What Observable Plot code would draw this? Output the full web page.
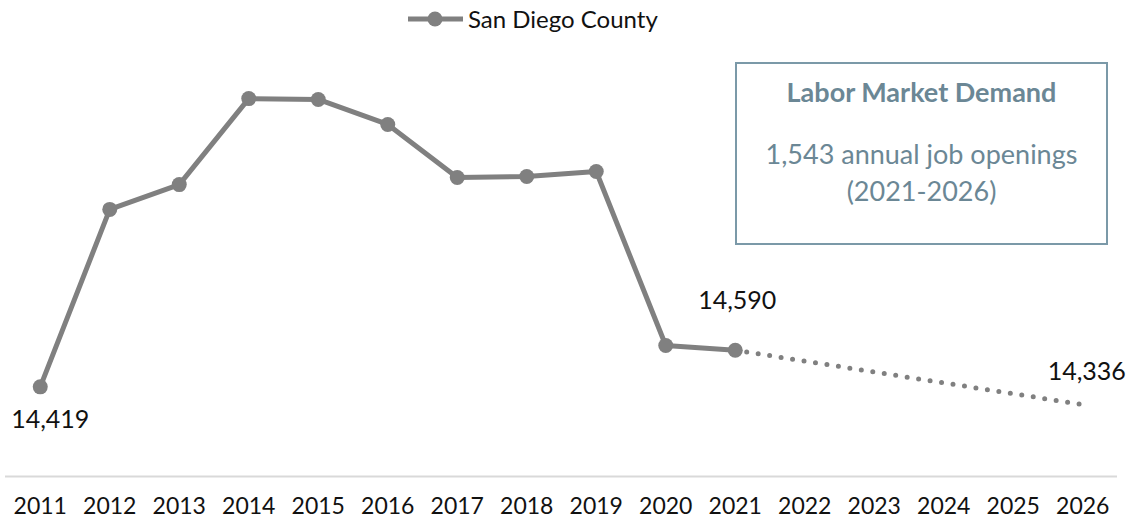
<!DOCTYPE html>
<html><head><meta charset="utf-8">
<script src="https://cdn.jsdelivr.net/npm/d3@7"></script>
<script src="https://cdn.jsdelivr.net/npm/@observablehq/plot@0.6"></script>
<style>
body{margin:0;background:#fff;font-family:Lato,"Noto Sans",sans-serif;}
#wrap{position:relative;width:1130px;height:518px;overflow:hidden;}
#legend{height:38px;position:relative;}
#legend svg{position:absolute;left:405px;top:9px;}
#legend span{position:absolute;left:468px;top:4px;font-size:24px;color:#111;line-height:30px;}
#box{position:absolute;left:735px;top:62px;width:373px;height:183px;box-sizing:border-box;border:2px solid #7b99a8;color:#6b8795;text-align:center;}
#box div{position:absolute;left:0;right:0;font-size:27px;line-height:30px;}
</style></head><body>
<div id="wrap">
<div id="legend"><svg width="62" height="20"><line x1="3" y1="10" x2="58" y2="10" stroke="#808080" stroke-width="5"/><circle cx="30" cy="10" r="7.5" fill="#808080"/></svg><span>San Diego County</span></div>
<div id="chart"></div>
<div id="box">
<div style="top:13px;font-weight:bold;">Labor Market Demand</div>
<div style="top:75px;">1,543 annual job openings</div>
<div style="top:112px;">(2021-2026)</div>
</div>
</div>
<script>
const years = [2011, 2012, 2013, 2014, 2015, 2016, 2017, 2018, 2019, 2020, 2021];
const actual = [14419, 15248, 15364, 15766, 15762, 15645, 15397, 15402, 15425, 14612, 14590];
const forecastYears = [2021, 2026];
const forecast = [14590, 14336];
const labelYears = [2011, 2021, 2026];
const labelValues = [14419, 14590, 14336];
const tickYears = [2011, 2012, 2013, 2014, 2015, 2016, 2017, 2018, 2019, 2020, 2021, 2022, 2023, 2024, 2025, 2026];

const actualData = years.map((y, i) => ({year: y, value: actual[i]}));
const forecastData = forecastYears.map((y, i) => ({year: y, value: forecast[i]}));
const labelData = labelYears.map((y, i) => ({year: y, value: labelValues[i]}));
const fmt = d3.format(",");

const chart = Plot.plot({
  width: 1130,
  height: 480,
  marginLeft: 5,
  marginRight: 13,
  marginTop: 10,
  marginBottom: 42,
  style: {fontFamily: "Lato, 'Noto Sans', sans-serif", fontSize: "23px", color: "#111", background: "#fff"},
  x: {domain: [2010.5, 2026.5], label: null},
  y: {domain: [14000, 16000], axis: null},
  marks: [
    Plot.ruleY([14000], {stroke: "#d9d9d9", strokeWidth: 2}),
    Plot.axisX({ticks: tickYears, tickFormat: d => String(d), tickSize: 0, tickPadding: 21, fontSize: 23, fill: "#111", label: null}),
    Plot.line(forecastData, {x: "year", y: "value", stroke: "#808080", strokeWidth: 5, strokeDasharray: "0 11.6", strokeLinecap: "round"}),
    Plot.line(actualData, {x: "year", y: "value", stroke: "#808080", strokeWidth: 5}),
    Plot.dot(actualData, {x: "year", y: "value", r: 7.5, fill: "#808080"}),
    Plot.text(labelData.slice(0, 1), {x: "year", y: "value", text: d => fmt(d.value), dx: 10, dy: 33, fontSize: 25, fill: "#111"}),
    Plot.text(labelData.slice(1, 2), {x: "year", y: "value", text: d => fmt(d.value), dx: 2, dy: -49, fontSize: 25, fill: "#111"}),
    Plot.text(labelData.slice(2, 3), {x: "year", y: "value", text: d => fmt(d.value), dx: 4, dy: -33, fontSize: 25, fill: "#111"})
  ]
});
document.getElementById("chart").appendChild(chart);
</script>
</body></html>
